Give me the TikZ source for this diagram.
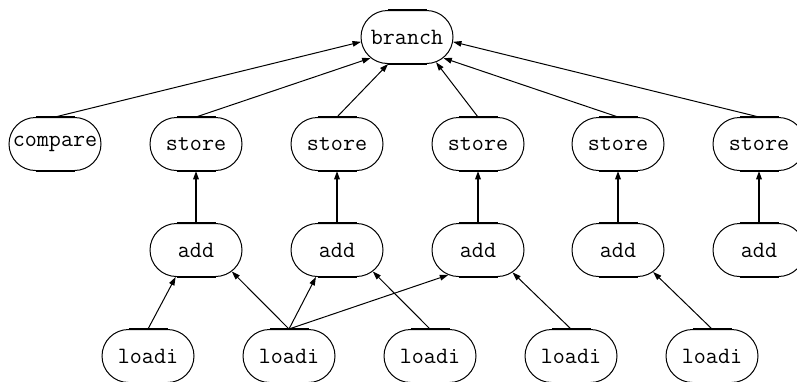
\documentclass[tikz,border=0pt]{standalone}
\usetikzlibrary{shapes.misc,arrows.meta}
\newcommand\oplabel[1]{\makebox[0pt]{#1}}
\tikzset{
  opnode/.style={rounded rectangle, draw, line width=0.5pt,
    minimum width=46pt, minimum height=26.5pt, inner sep=0pt,
    font=\fontsize{11.7}{14}\selectfont\ttfamily},
  dep/.style={-{Triangle[length=4.2pt,width=2.8pt]}, line width=0.5pt},
  upright/.style={-{Triangle[length=4.2pt,width=2.8pt]}, line width=0.75pt},
  flat/.style={line width=1.1pt},
}
\begin{document}
\begin{tikzpicture}[x=0.5pt,y=-0.5pt]
\useasboundingbox (0,0) rectangle (797,381);
\clip (0,0) rectangle (797,381);

% root
\node[opnode] (branch) at (407,37) {\oplabel{branch}};

% second row
\node[opnode] (compare) at (55,144)  {\oplabel{compare}};
\node[opnode] (s1)      at (196,144) {\oplabel{store}};
\node[opnode] (s2)      at (337,144) {\oplabel{store}};
\node[opnode] (s3)      at (478,144) {\oplabel{store}};
\node[opnode] (s4)      at (618,144) {\oplabel{store}};
\node[opnode] (s5)      at (759,144) {\oplabel{store}};

% third row
\node[opnode] (a1) at (196,250) {\oplabel{add}};
\node[opnode] (a2) at (337,250) {\oplabel{add}};
\node[opnode] (a3) at (478,250) {\oplabel{add}};
\node[opnode] (a4) at (618,250) {\oplabel{add}};
\node[opnode] (a5) at (759,250) {\oplabel{add}};

% bottom row
\node[opnode] (l1) at (148,356) {\oplabel{loadi}};
\node[opnode] (l2) at (289,356) {\oplabel{loadi}};
\node[opnode] (l3) at (430,356) {\oplabel{loadi}};
\node[opnode] (l4) at (571,356) {\oplabel{loadi}};
\node[opnode] (l5) at (712,356) {\oplabel{loadi}};

% heavy straight edges of each node
\foreach \n in {branch,compare,s1,s2,s3,s4,s5,a1,a2,a3,a4,a5,l1,l2,l3,l4,l5}{
  \draw[flat] ([xshift=-9.75pt]\n.north) -- ([xshift=9.75pt]\n.north);
  \draw[flat] ([xshift=-9.75pt]\n.south) -- ([xshift=9.75pt]\n.south);
}

% dependences into branch
\draw[dep] (compare.north) -- (branch.186);
\draw[dep] (s1.north) -- (branch.210);
\draw[dep] (s2.north) -- (branch.235);
\draw[dep] (s3.north) -- (branch.319);
\draw[dep] (s4.north) -- (branch.330);
\draw[dep] (s5.north) -- (branch.354);

% add -> store
\foreach \i in {1,...,5}
  \draw[upright] (a\i.north) -- (s\i.south);

% loadi -> add
\draw[dep] (l1.north) -- (a1.233);
\draw[dep] (l2.north) -- (a1.329);
\draw[dep] (l2.north) -- (a2.232);
\draw[dep] (l2.north) -- (a3.220);
\draw[dep] (l3.north) -- (a2.329);
\draw[dep] (l4.north) -- (a3.327);
\draw[dep] (l5.north) -- (a4.328);
\end{tikzpicture}
\end{document}
